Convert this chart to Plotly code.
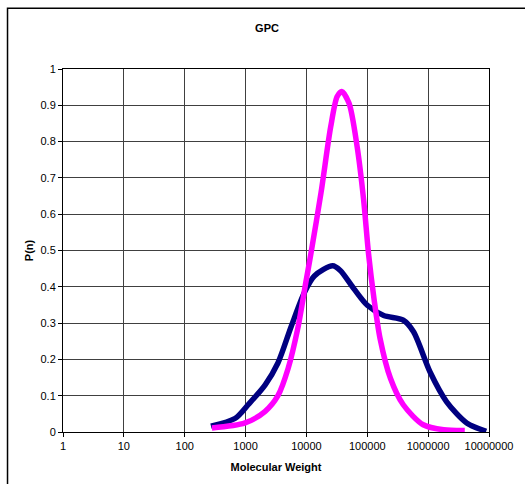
import plotly.graph_objects as go

# Data
blue_mw = [270, 680, 1100, 2100, 3400, 5600, 9300, 13500, 27000, 36000, 60000,
           100000, 186000, 390000, 575000, 1070000, 2000000, 4300000, 9000000]
blue_p = [0.016, 0.038, 0.075, 0.13, 0.19, 0.29, 0.385, 0.43, 0.458, 0.445, 0.395,
          0.349, 0.321, 0.308, 0.276, 0.166, 0.084, 0.025, 0.002]

pink_mw = [280, 980, 2100, 3400, 5000, 7200, 9800, 11700, 17400, 25000, 32000,
           38000, 50000, 68000, 87000, 105000, 129000, 162000, 240000, 390000,
           830000, 1800000, 4000000]
pink_p = [0.011, 0.025, 0.057, 0.10, 0.175, 0.285, 0.413, 0.486, 0.66, 0.84, 0.924,
          0.938, 0.906, 0.787, 0.64, 0.49, 0.367, 0.258, 0.148, 0.075,
          0.02, 0.006, 0.004]

x_ticks = [1, 10, 100, 1000, 10000, 100000, 1000000, 10000000]
x_ticktext = ["1", "10", "100", "1000", "10000", "100000", "1000000", "10000000"]
y_ticks = [0, 0.1, 0.2, 0.3, 0.4, 0.5, 0.6, 0.7, 0.8, 0.9, 1]
y_ticktext = ["0", "0.1", "0.2", "0.3", "0.4", "0.5", "0.6", "0.7", "0.8", "0.9", "1"]

FONT = "Liberation Sans, Arial, sans-serif"

fig = go.Figure()
fig.add_trace(go.Scatter(x=blue_mw, y=blue_p, mode="lines",
                         line=dict(color="#000080", width=5.5, shape="spline", smoothing=0.8),
                         showlegend=False))
fig.add_trace(go.Scatter(x=pink_mw, y=pink_p, mode="lines",
                         line=dict(color="#FF00FF", width=5.5, shape="spline", smoothing=0.8),
                         showlegend=False))

fig.update_layout(
    width=525, height=484,
    margin=dict(l=63, r=32, t=69, b=50),
    paper_bgcolor="white", plot_bgcolor="white",
    font=dict(family=FONT, size=11, color="black"),
    title=dict(text="<b>GPC</b>", x=(267) / 525, xanchor="center",
               y=1 - 28 / 484, yanchor="middle", font=dict(size=11)),
    xaxis=dict(type="log", range=[0, 7], tickvals=x_ticks, ticktext=x_ticktext,
               showgrid=True, gridcolor="#404040", gridwidth=1,
               showline=True, linecolor="black", linewidth=1, mirror=True,
               ticks="outside", ticklen=4, tickcolor="black",
               title=dict(text="<b>Molecular Weight</b>", standoff=12, font=dict(size=11)),
               zeroline=False),
    yaxis=dict(range=[0, 1], tickvals=y_ticks, ticktext=y_ticktext,
               showgrid=True, gridcolor="#404040", gridwidth=1,
               showline=True, linecolor="black", linewidth=1, mirror=True,
               ticks="outside", ticklen=4, tickcolor="black",
               title=dict(text="<b>P(n)</b>", standoff=4, font=dict(size=11)),
               zeroline=False),
)

# Outer chart-area border (extends past the right and bottom of the view)
fig.add_shape(type="rect", xref="paper", yref="paper",
              x0=(7 - 63) / 430, x1=(540 - 63) / 430,
              y0=(434 - 500) / 365, y1=(434 - 8) / 365,
              line=dict(color="black", width=1.5), fillcolor="rgba(0,0,0,0)", layer="below")

fig.write_html("out.html", config={"displayModeBar": False},
               post_script="document.body.style.margin='0';document.body.style.overflow='hidden';")
